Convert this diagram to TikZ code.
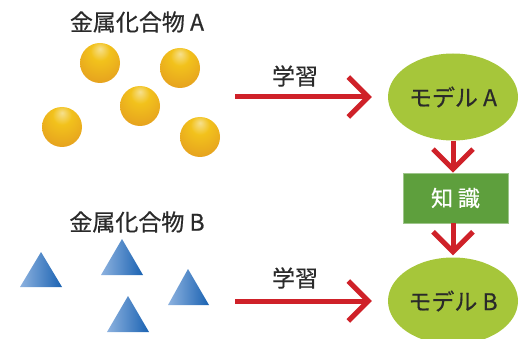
\documentclass[tikz,border=0pt]{standalone}
\usepackage{fontspec}
\setmainfont{Noto Sans CJK JP}
\newfontfamily\medfont{Noto Sans CJK JP}[FakeBold=0.5]
\usetikzlibrary{arrows.meta,shapes.geometric}
\definecolor{txt}{HTML}{2A2A2A}
\definecolor{arrred}{HTML}{CF2129}
\definecolor{lime}{HTML}{A6C63A}
\definecolor{boxgreen}{HTML}{5E9F3D}
\definecolor{goldA}{HTML}{F6E08E}
\definecolor{goldB}{HTML}{F2C21C}
\definecolor{goldC}{HTML}{E39A1F}
\definecolor{blueL}{HTML}{8DB2DF}
\definecolor{blueD}{HTML}{1A62B2}
\pgfdeclareradialshading{goldball}{\pgfpoint{0bp}{18bp}}{%
  color(0bp)=(goldA); color(12bp)=(goldB); color(40bp)=(goldC); color(70bp)=(goldC)}
\tikzset{
  lbl/.style={text=txt, font=\medfont\fontsize{23pt}{27pt}\selectfont, inner sep=0pt},
  arr/.style={draw=arrred, line width=5pt, -{Straight Barb[length=20pt,width=40pt]}},
  ball/.style={circle, minimum size=40pt, inner sep=0pt, shading=goldball},
  tri/.style={left color=blueL, right color=blueD},
  model/.style={ellipse, fill=lime, minimum width=130pt, minimum height=87pt, inner sep=0pt, text=txt, font=\medfont\fontsize{23pt}{27pt}\selectfont},
  kbox/.style={rectangle, fill=boxgreen, draw=boxgreen!60!white, line width=0.6pt, minimum width=105pt, minimum height=50pt, inner sep=0pt, text=white, font=\medfont\fontsize{22pt}{26pt}\selectfont}
}
\begin{document}
\begin{tikzpicture}[x=1pt,y=-1pt]
\useasboundingbox (0,0) rectangle (519,339);
\clip (0,0) rectangle (519,339);
% titles
\node[lbl] (tA) at (137,22) {金属化合物 A};
\node[lbl] (tB) at (137,222) {金属化合物 B};
% spheres
\node[ball] (s1) at (100,63) {};
\node[ball] (s2) at (180,68) {};
\node[ball] (s3) at (140,106) {};
\node[ball] (s4) at (62,127) {};
\node[ball] (s5) at (200,137) {};
% triangles
\shade[tri] (20,287) -- (41,252) -- (62,287) -- cycle;
\shade[tri] (101,275) -- (122,239) -- (143,275) -- cycle;
\shade[tri] (168,305) -- (188,269) -- (209,305) -- cycle;
\shade[tri] (107,332) -- (128,296) -- (149,332) -- cycle;
% models and knowledge
\node[model] (mA) at (453,97) {モデル A};
\node[kbox] (k) at (455.5,198) {知 識};
\node[model] (mB) at (453,301) {モデル B};
% learning arrows
\coordinate (lA) at (235,97);
\coordinate (lB) at (235,301);
\draw[arr, shorten >=16pt] (lA) -- (lA -| mA.west);
\draw[arr, shorten >=16pt] (lB) -- (lB -| mB.west);
\node[lbl] (gA) at (295,76) {学習};
\node[lbl] (gB) at (295,278) {学習};
% vertical arrows
\draw[arr] (mA.south) -- (mA.south |- k.north);
\draw[arr, shorten >=2pt] (mA.south |- k.south) -- (mB.north);
\end{tikzpicture}
\end{document}
